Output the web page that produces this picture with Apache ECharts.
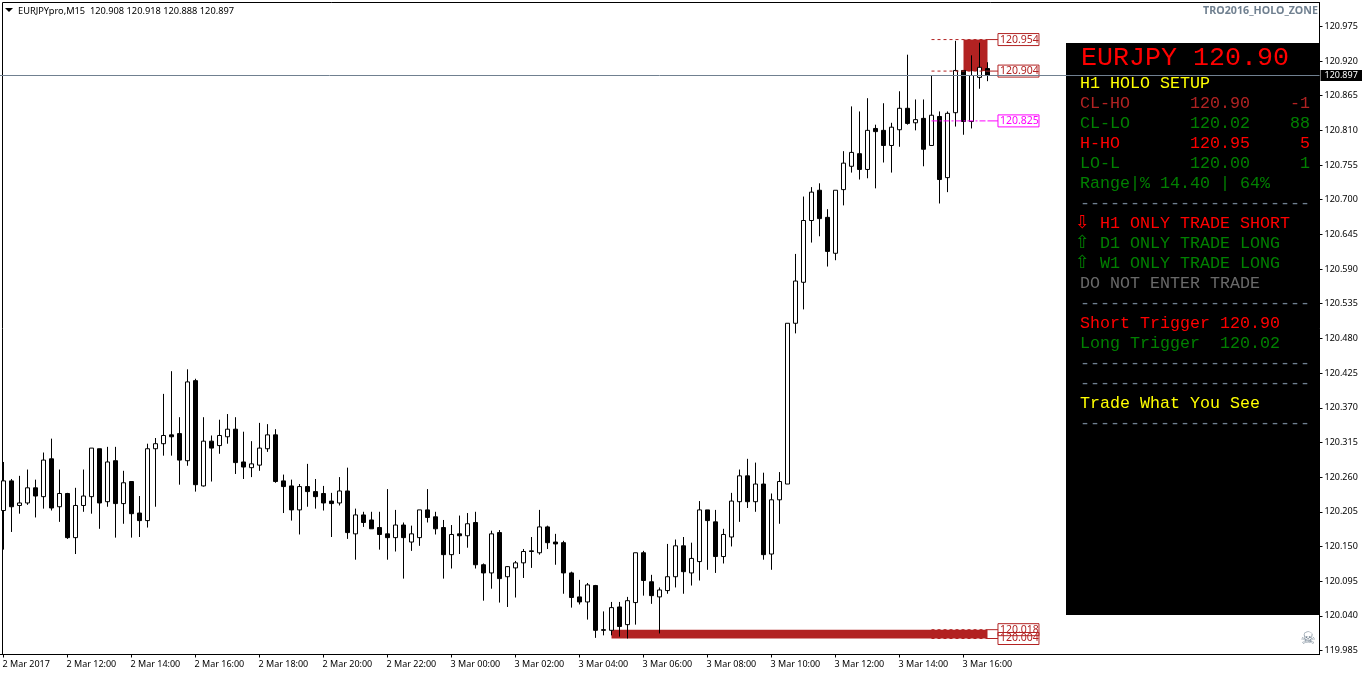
<!DOCTYPE html>
<html>
<head>
<meta charset="utf-8">
<style>html,body{margin:0;padding:0;background:#fff}#c{width:1362px;height:675px}</style>
<script src="https://cdn.jsdelivr.net/npm/echarts@6/dist/echarts.min.js"></script>
</head>
<body>
<div id="c"></div>
<script>
const opens = [120.207,120.254,120.215,120.219,120.243,120.229,120.289,120.213,120.234,120.164,120.215,120.229,120.305,120.221,120.286,120.218,120.253,120.203,120.191,120.305,120.313,120.327,120.329,120.286,120.413,120.246,120.317,120.310,120.324,120.336,120.284,120.275,120.279,120.305,120.327,120.254,120.246,120.208,120.245,120.237,120.234,120.222,120.219,120.238,120.170,120.200,120.192,120.180,120.170,120.164,120.184,120.157,120.164,120.208,120.197,120.180,120.137,120.170,120.167,120.188,120.121,120.108,120.172,120.102,120.116,120.124,120.143,120.140,120.181,120.157,120.156,120.108,120.070,120.062,120.088,120.018,120.017,120.054,120.026,120.061,120.140,120.094,120.070,120.080,120.102,120.151,120.108,120.126,120.208,120.189,120.134,120.165,120.221,120.262,120.221,120.249,120.138,120.224,120.249,120.504,120.569,120.667,120.715,120.672,120.615,120.716,120.753,120.773,120.748,120.813,120.810,120.786,120.811,120.845,120.822,120.829,120.786,120.832,120.735,120.838,120.905,120.824,120.894,120.908];
const highs = [120.284,120.257,120.262,120.272,120.256,120.299,120.321,120.272,120.235,120.243,120.272,120.306,120.305,120.308,120.308,120.270,120.253,120.230,120.313,120.322,120.392,120.428,120.355,120.431,120.416,120.355,120.326,120.351,120.360,120.355,120.332,120.317,120.346,120.344,120.336,120.264,120.256,120.249,120.281,120.257,120.246,120.235,120.260,120.275,120.210,120.205,120.205,120.205,120.241,120.208,120.188,120.183,120.208,120.241,120.205,120.192,120.184,120.199,120.203,120.205,120.123,120.175,120.176,120.119,120.127,120.146,120.165,120.208,120.183,120.170,120.159,120.110,120.097,120.092,120.089,120.047,120.062,120.062,120.070,120.140,120.143,120.105,120.085,120.154,120.161,120.165,120.156,120.222,120.208,120.208,120.178,120.235,120.272,120.289,120.283,120.267,120.234,120.268,120.504,120.614,120.705,120.720,120.726,120.685,120.715,120.777,120.848,120.840,120.861,120.819,120.853,120.822,120.872,120.930,120.859,120.859,120.897,120.840,120.840,120.952,120.905,120.929,120.949,120.918];
const lows = [120.145,120.173,120.202,120.216,120.196,120.210,120.207,120.189,120.162,120.138,120.205,120.202,120.178,120.213,120.164,120.186,120.164,120.165,120.180,120.213,120.294,120.294,120.248,120.278,120.237,120.245,120.253,120.297,120.313,120.265,120.257,120.260,120.270,120.300,120.251,120.203,120.191,120.169,120.213,120.210,120.207,120.165,120.215,120.162,120.129,120.181,120.178,120.145,120.129,120.142,120.099,120.143,120.151,120.188,120.169,120.099,120.115,120.138,120.148,120.115,120.064,120.083,120.061,120.054,120.069,120.100,120.116,120.137,120.146,120.121,120.075,120.053,120.058,120.034,120.005,120.009,120.009,120.007,120.004,120.026,120.072,120.059,120.012,120.075,120.085,120.075,120.088,120.096,120.113,120.108,120.123,120.150,120.189,120.211,120.205,120.129,120.113,120.186,120.249,120.488,120.526,120.632,120.642,120.594,120.604,120.691,120.743,120.732,120.734,120.718,120.759,120.743,120.784,120.819,120.810,120.753,120.786,120.694,120.712,120.816,120.803,120.813,120.876,120.888];
const closes = [120.254,120.213,120.219,120.243,120.230,120.287,120.211,120.234,120.164,120.215,120.230,120.306,120.219,120.284,120.218,120.251,120.202,120.191,120.305,120.313,120.326,120.324,120.287,120.411,120.248,120.317,120.306,120.326,120.336,120.283,120.276,120.281,120.306,120.327,120.253,120.245,120.208,120.245,120.237,120.229,120.219,120.218,120.238,120.172,120.200,120.188,120.178,120.169,120.164,120.184,120.164,120.170,120.208,120.196,120.178,120.137,120.169,120.167,120.186,120.121,120.108,120.170,120.099,120.118,120.124,120.142,120.142,120.181,120.156,120.154,120.108,120.069,120.062,120.089,120.017,120.017,120.053,120.023,120.064,120.140,120.096,120.072,120.081,120.102,120.151,120.110,120.131,120.208,120.191,120.134,120.169,120.222,120.262,120.221,120.249,120.137,120.224,120.253,120.504,120.571,120.667,120.712,120.670,120.618,120.715,120.758,120.775,120.748,120.810,120.808,120.786,120.815,120.845,120.821,120.827,120.780,120.834,120.732,120.837,120.905,120.824,120.897,120.910,120.897];
const timeTickLabels = ['2 Mar 2017','2 Mar 12:00','2 Mar 14:00','2 Mar 16:00','2 Mar 18:00','2 Mar 20:00','2 Mar 22:00','3 Mar 00:00','3 Mar 02:00','3 Mar 04:00','3 Mar 06:00','3 Mar 08:00','3 Mar 10:00','3 Mar 12:00','3 Mar 14:00','3 Mar 16:00'];
const barsPerTimeTick = 8;
const totalSlots = 165;
const priceTicks = [119.985,120.040,120.095,120.150,120.205,120.260,120.315,120.370,120.425,120.480,120.535,120.590,120.645,120.700,120.755,120.810,120.865,120.920,120.975];
const currentPrice = 120.897;
const redLevels = [120.954,120.904,120.018,120.004];
const magentaLevels = [120.825];
const upperZone = [120.954,120.904];
const lowerZone = [120.018,120.004];
const upperZoneBars = [120,123];
const lowerZoneBars = [76,123];
const levelBars = [116,123.06,124.31];
const headerText = 'EURJPYpro,M15  120.908 120.918 120.888 120.897';
const indicatorName = 'TRO2016_HOLO_ZONE';
const panelTitle = 'EURJPY 120.90';
const panelRows = [
 ['H1 HOLO SETUP','yellow'],
 ['CL-HO      120.90    -1','brick'],
 ['CL-LO      120.02    88','green'],
 ['H-HO       120.95     5','red'],
 ['LO-L       120.00     1','green'],
 ['Range|% 14.40 | 64%','green'],
 ['-----------------------','slate'],
 ['  H1 ONLY TRADE SHORT','red'],
 ['  D1 ONLY TRADE LONG','green'],
 ['  W1 ONLY TRADE LONG','green'],
 ['DO NOT ENTER TRADE','grey'],
 ['-----------------------','slate'],
 ['Short Trigger 120.90','red'],
 ['Long Trigger  120.02','green'],
 ['-----------------------','slate'],
 ['-----------------------','slate'],
 ['Trade What You See','yellow'],
 ['-----------------------','slate']
];
const panelArrows = {7:['\u21E9','red'],8:['\u21E7','green'],9:['\u21E7','green']};

const palette = {yellow:'#FFFF00',brick:'#B22222',green:'#008000',red:'#FF0000',slate:'#708090',grey:'#696969'};
const UI = '"Noto Sans"';
const MONO = '"Liberation Mono"';
const categories = Array.from({length:totalSlots},(_,i)=> (i%barsPerTimeTick===0 && timeTickLabels[i/barsPerTimeTick]) || '');
const tickIdx = timeTickLabels.map((_,k)=>k*barsPerTimeTick);
const candleData = opens.map((o,i)=>[o,closes[i],lows[i],highs[i]]);

function levelSeries(p,colour,type){
  return [
   {type:'line',xAxisIndex:1,silent:true,symbol:'none',z:4,data:[[levelBars[0],p],[levelBars[1],p]],lineStyle:{color:colour,width:1,type:type}},
   {type:'line',xAxisIndex:1,silent:true,symbol:'none',z:4,data:[[levelBars[1],p],[levelBars[2],p]],lineStyle:{color:colour,width:1,type:'solid'},
    endLabel:{show:true,distance:0,formatter:x=>x.value[1].toFixed(3),color:colour,fontFamily:UI,fontSize:10.5,
      borderColor:colour,borderWidth:1,padding:[1,2,1,2],width:37,height:10,lineHeight:10}}
  ];
}
function zone(bars,prices){return [{xAxis:bars[0],yAxis:prices[0]},{xAxis:bars[1],yAxis:prices[1]}];}

const graphic = [
 {type:'rect',z:0,shape:{x:2.5,y:2.5,width:1317,height:652},style:{fill:'none',stroke:'#000',lineWidth:1}},
 {type:'rect',z:1,shape:{x:1066,y:43,width:253,height:572},style:{fill:'#000'}},
 {type:'text',z:2,x:1081,y:58,style:{text:panelTitle,fill:palette.red,font:'26.67px '+MONO,verticalAlign:'middle'}},
 {type:'polygon',z:2,shape:{points:[[5,8],[13,8],[9,12]]},style:{fill:'#000'}},
 {type:'text',z:2,x:18,y:11,style:{text:headerText,fill:'#000',font:'9.25px '+UI,verticalAlign:'middle'}},
 {type:'text',z:2,x:1318,y:11,style:{text:indicatorName,fill:palette.slate,font:'bold 10.7px '+UI,align:'right',verticalAlign:'middle'}},
 {type:'text',z:2,x:1308,y:640,style:{text:'\u2620',fill:palette.slate,font:'17px "DejaVu Sans"',align:'center',verticalAlign:'middle'}}
];
panelRows.forEach((r,i)=>{
  graphic.push({type:'text',z:2,x:1080,y:84+20*i,style:{text:r[0],fill:palette[r[1]],font:'16.67px '+MONO,verticalAlign:'middle'}});
  if(panelArrows[i]) graphic.push({type:'text',z:2,x:1075,y:83+20*i,style:{text:panelArrows[i][0],fill:palette[panelArrows[i][1]],font:'18px "DejaVu Sans"',verticalAlign:'middle'}});
});

const chart = echarts.init(document.getElementById('c'),null,{renderer:'canvas'});
chart.setOption({
  animation:false,
  backgroundColor:'#fff',
  tooltip:{show:false},
  grid:{left:-0.5,top:2.5,width:1320,height:652,containLabel:false,outerBoundsMode:'none'},
  graphic:graphic,
  xAxis:[
   {type:'category',data:categories,boundaryGap:true,position:'bottom',
    axisLine:{show:true,lineStyle:{color:'#000',width:1}},
    axisTick:{show:true,customValues:tickIdx,alignWithLabel:true,length:3,lineStyle:{color:'#000',width:1}},
    axisLabel:{show:true,customValues:tickIdx,align:'left',margin:5,padding:[0,0,0,-1],color:'#000',fontFamily:UI,fontSize:9,hideOverlap:false,showMinLabel:true,showMaxLabel:true},
    splitLine:{show:false}},
   {type:'value',min:-0.5,max:164.5,show:false,splitLine:{show:false}}
  ],
  yAxis:{type:'value',position:'right',min:119.97863,max:121.01279,scale:true,
    axisLine:{show:true,onZero:false,lineStyle:{color:'#000',width:1}},
    axisTick:{show:true,customValues:priceTicks,length:3,lineStyle:{color:'#000',width:1}},
    axisLabel:{show:true,customValues:priceTicks,margin:5,color:'#000',fontFamily:UI,fontSize:9,formatter:v=>v.toFixed(3),showMinLabel:true,showMaxLabel:true},
    splitLine:{show:false}},
  series:[
   {type:'line',xAxisIndex:1,data:[],silent:true,symbol:'none',
    markArea:{silent:true,itemStyle:{color:palette.brick,opacity:1},data:[zone(upperZoneBars,upperZone),zone(lowerZoneBars,lowerZone)]}},
   {type:'candlestick',xAxisIndex:0,data:candleData,barWidth:4,silent:true,z:3,
    itemStyle:{color:'#fff',color0:'#000',borderColor:'#000',borderColor0:'#000',borderWidth:1}},
   ...redLevels.flatMap(p=>levelSeries(p,palette.brick,[3,3])),
   ...magentaLevels.flatMap(p=>levelSeries(p,'#FF00FF',[6,2,2,2])),
   {type:'line',xAxisIndex:1,silent:true,symbol:'none',z:5,data:[[-0.5,currentPrice],[164.5,currentPrice]],lineStyle:{color:'#708090',width:1},
    endLabel:{show:true,distance:1,formatter:x=>x.value[1].toFixed(3),color:'#fff',backgroundColor:'#000',fontFamily:UI,fontSize:9,padding:[1,1,0,4],width:37,height:10,lineHeight:10}}
  ]
});
</script>
</body>
</html>
